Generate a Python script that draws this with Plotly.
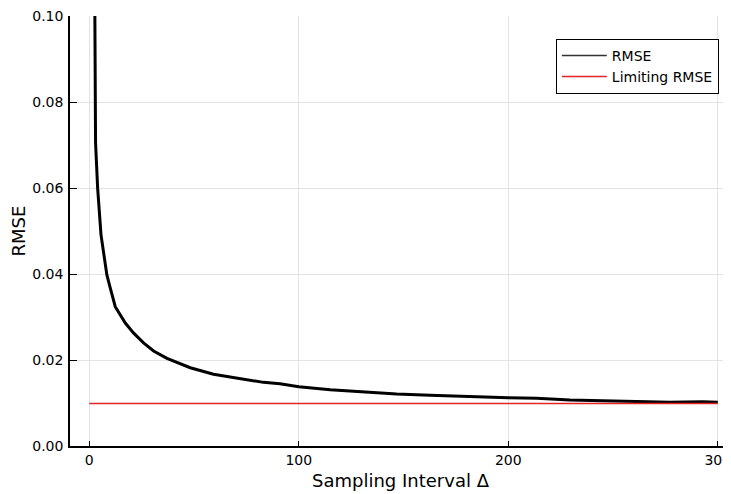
import plotly.graph_objects as go

# Data
delta = [2.5, 3.0, 4.0, 5.6, 6.8, 8.4, 10.0, 12.4, 17.2, 21.1, 25.9, 30.7, 37.1, 41.8,
         48.2, 59.3, 65.7, 73.6, 83.1, 91.0, 100.0, 115.0, 130.7, 146.7, 162.6,
         178.4, 186.5, 200.0, 213.5, 229.4, 245.0, 261.0, 277.0, 292.8, 300.0]
rmse = [0.115, 0.0705, 0.0599, 0.0491, 0.0451, 0.0398, 0.0368, 0.0324, 0.0286, 0.0263,
        0.0240, 0.0221, 0.0204, 0.0194, 0.0182, 0.0167, 0.0162, 0.0156, 0.0148,
        0.0145, 0.0138, 0.0131, 0.0126, 0.0121, 0.0118, 0.0115, 0.0113, 0.0112,
        0.0111, 0.0107, 0.0105, 0.0104, 0.0102, 0.0103, 0.0102]
limit_x = [0, 300]
limit_rmse = [0.0099, 0.0099]

x_ticks = [0, 100, 200, 300]
y_ticks = [0.00, 0.02, 0.04, 0.06, 0.08, 0.10]

fig = go.Figure()
fig.add_trace(go.Scatter(x=delta, y=rmse, mode="lines", name="RMSE",
                         line=dict(color="black", width=3), showlegend=False))
fig.add_trace(go.Scatter(x=limit_x, y=limit_rmse, mode="lines", name="Limiting RMSE",
                         line=dict(color="#e3242b", width=1.5), showlegend=False))
# legend samples (thin lines as in the reference legend)
fig.add_trace(go.Scatter(x=[None], y=[None], mode="lines", name="RMSE",
                         line=dict(color="#333333", width=1.5)))
fig.add_trace(go.Scatter(x=[None], y=[None], mode="lines", name="Limiting RMSE",
                         line=dict(color="#e3242b", width=1.5)))

font = "DejaVu Sans, sans-serif"
# The page body has an 8px margin, so the figure is sized 8px smaller
fig.update_layout(
    width=723, height=486,
    margin=dict(l=62, r=0, t=4, b=48),
    paper_bgcolor="white", plot_bgcolor="white",
    font=dict(family=font, color="black", size=14),
    legend=dict(x=0.735, y=0.947, xanchor="left", yanchor="top",
                bordercolor="black", borderwidth=1, bgcolor="white",
                font=dict(size=14), tracegroupgap=0, itemwidth=45),
    xaxis=dict(range=[-9.2, 306.3], tickvals=x_ticks,
               ticktext=[str(v) for v in x_ticks],
               showgrid=True, gridcolor="#e3e3e3", gridwidth=1,
               zeroline=False, showline=True, linecolor="black", linewidth=1.5,
               ticks="inside", ticklen=5, tickcolor="black",
               tickfont=dict(size=14), ticklabeloverflow="allow",
               title=dict(text="Sampling Interval Δ", font=dict(size=18), standoff=8)),
    yaxis=dict(range=[0, 0.1], tickvals=y_ticks,
               ticktext=[f"{v:.2f}" for v in y_ticks],
               showgrid=True, gridcolor="#e3e3e3", gridwidth=1,
               zeroline=False, showline=True, linecolor="black", linewidth=1.5,
               ticks="inside", ticklen=7, tickcolor="black",
               tickfont=dict(size=14), ticklabelstandoff=2, ticklabeloverflow="allow",
               title=dict(text="RMSE", font=dict(size=18), standoff=8)),
)

fig.write_html("out.html")
